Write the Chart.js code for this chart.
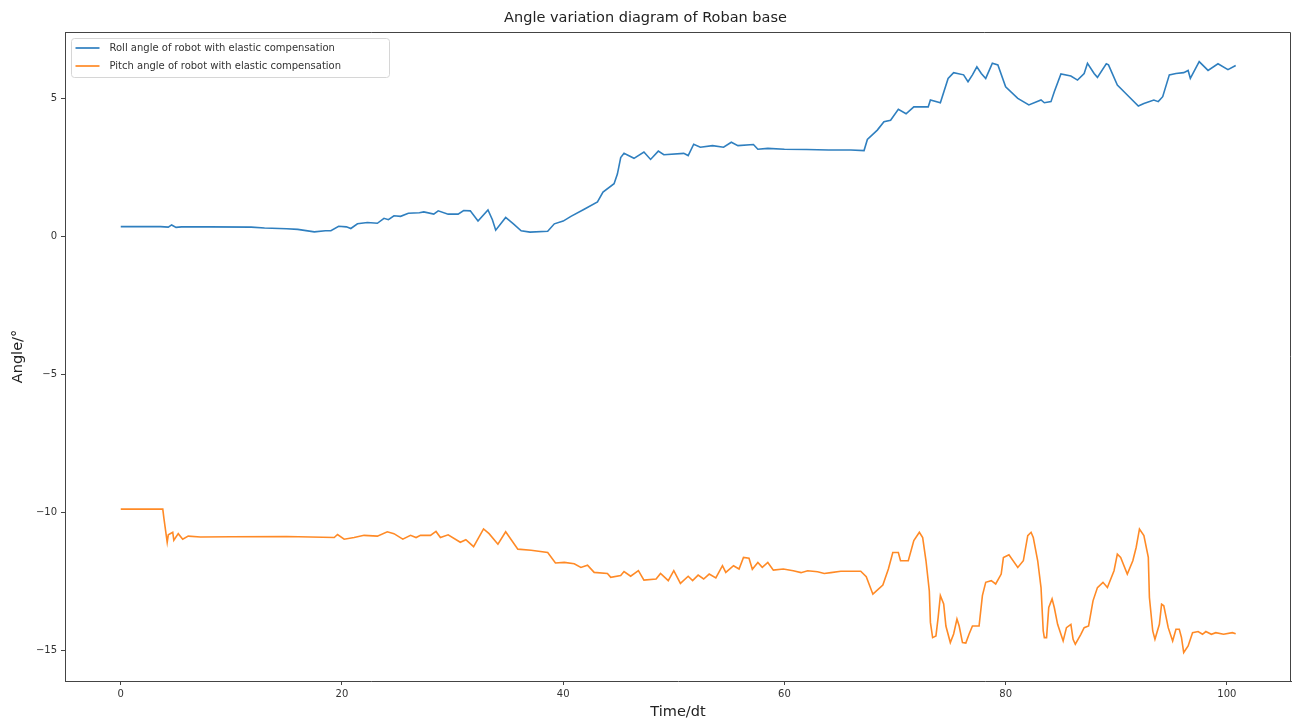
<!DOCTYPE html>
<html>
<head>
<meta charset="utf-8">
<script src="https://cdn.jsdelivr.net/npm/chart.js@4.4.1/dist/chart.umd.min.js"></script>
<style>
  html, body { margin: 0; padding: 0; background: #ffffff; }
  #wrap { width: 1293px; height: 724px; }
</style>
</head>
<body>
<div id="wrap"><canvas id="c" width="1293" height="724"></canvas></div>
<script>
const chartTitle = 'Angle variation diagram of Roban base';
const xAxisTitle = 'Time/dt';
const yAxisTitle = 'Angle/°';
const seriesNames = ['Roll angle of robot with elastic compensation', 'Pitch angle of robot with elastic compensation'];
const xTickValues = [0, 20, 40, 60, 80, 100];
const yTickValues = [-15, -10, -5, 0, 5];

const rollTime = [0, 3.6, 4.3, 4.6, 5.0, 5.5, 8, 11.8, 13, 15, 16, 17.5, 18.5, 19, 19.7, 20.4, 20.8, 21.4, 22.3, 23.2,
  23.8, 24.2, 24.7, 25.3, 26, 27, 27.4, 28.3, 28.7, 29.6, 30.5, 31, 31.6, 32.3, 33.2, 33.6, 33.9, 34.8, 35.5, 36.2,
  37, 38.6, 39.2, 40, 40.7, 41.9, 43.1, 43.6, 44.6, 44.9, 45.2, 45.5, 46.4, 47.3, 47.9, 48.6, 49.1, 50.9, 51.3, 51.8,
  52.4, 53.5, 54.5, 55.2, 55.8, 57.2, 57.6, 58.5, 60, 62, 64, 66, 67.2, 67.5, 68.4, 69, 69.6, 70.3, 71, 71.7,
  73, 73.2, 74.1, 74.8, 75.3, 76.2, 76.6, 77, 77.4, 77.8, 78.2, 78.8, 79.3, 80, 81.1, 82.1, 83.2, 83.5, 84.1, 84.4,
  85, 85.9, 86.5, 87.1, 87.4, 88, 88.3, 89.1, 89.3, 90.1, 91, 92, 92.5, 93.4, 93.8, 94.2, 94.8, 95.4, 96.1, 96.5,
  96.7, 97.5, 98.3, 99.2, 100.1, 100.8];
const rollAngle = [0.35, 0.35, 0.33, 0.41, 0.32, 0.34, 0.34, 0.33, 0.3, 0.27, 0.25, 0.16, 0.2, 0.2, 0.36, 0.34, 0.28, 0.45, 0.5, 0.47,
  0.65, 0.6, 0.74, 0.72, 0.83, 0.85, 0.88, 0.8, 0.92, 0.8, 0.8, 0.93, 0.92, 0.55, 0.95, 0.6, 0.22, 0.68, 0.45, 0.2,
  0.15, 0.18, 0.45, 0.55, 0.72, 0.98, 1.24, 1.6, 1.9, 2.25, 2.85, 3.0, 2.82, 3.05, 2.78, 3.08, 2.95, 3.0, 2.92, 3.33,
  3.22, 3.28, 3.22, 3.4, 3.28, 3.32, 3.15, 3.18, 3.15, 3.14, 3.12, 3.12, 3.1, 3.5, 3.84, 4.14, 4.2, 4.59, 4.43, 4.68,
  4.68, 4.93, 4.83, 5.71, 5.92, 5.84, 5.59, 5.84, 6.13, 5.89, 5.71, 6.26, 6.2, 5.41, 4.99, 4.75, 4.93, 4.83, 4.87, 5.23,
  5.87, 5.8, 5.65, 5.89, 6.26, 5.89, 5.75, 6.24, 6.2, 5.47, 5.11, 4.71, 4.8, 4.93, 4.87, 5.05, 5.84, 5.89, 5.92, 6.0,
  5.71, 6.32, 6.0, 6.24, 6.03, 6.18];

const pitchTime = [0, 3.8, 3.9, 4.2, 4.3, 4.7, 4.8, 5.2, 5.6, 6.1, 7.2, 10, 15, 19.3, 19.6, 20.2, 21.1, 22, 23.2, 24.1,
  24.7, 25.5, 26.2, 26.7, 27.1, 28, 28.5, 28.9, 29.6, 30.7, 31.2, 31.9, 32.8, 33.3, 34.1, 34.8, 35.9, 37.1, 38.6, 39.3,
  40.1, 41, 41.6, 42.2, 42.8, 44, 44.3, 45.2, 45.5, 46.1, 46.8, 47.3, 48.4, 48.8, 49.5, 50, 50.6, 51.3, 51.7, 52.2,
  52.7, 53.2, 53.8, 54.4, 54.7, 55.4, 55.9, 56.3, 56.8, 57.1, 57.6, 58, 58.5, 59, 59.9, 60.8, 61.5, 62.1, 63, 63.6,
  64.2, 65.1, 66.9, 67.4, 68, 68.9, 69.4, 69.8, 70.3, 70.5, 71.2, 71.7, 72.2, 72.5, 72.8, 73.1, 73.2, 73.4, 73.7, 73.9,
  74.1, 74.4, 74.6, 75, 75.3, 75.6, 75.8, 76.1, 76.4, 76.7, 77, 77.6, 77.9, 78.2, 78.7, 79.1, 79.6, 79.8, 80.3, 81.1,
  81.6, 82, 82.3, 82.5, 82.9, 83.2, 83.4, 83.5, 83.7, 83.9, 84.2, 84.4, 84.7, 85.2, 85.5, 85.9, 86.1, 86.3, 86.8, 87.1,
  87.5, 87.9, 88.3, 88.8, 89.2, 89.8, 90.1, 90.4, 91, 91.5, 91.8, 92.1, 92.5, 92.9, 93, 93.3, 93.5, 93.9, 94.1, 94.3,
  94.7, 95.1, 95.4, 95.7, 95.9, 96.1, 96.5, 96.9, 97.4, 97.8, 98.1, 98.6, 99, 99.7, 100.5, 100.8];
const pitchAngle = [-9.87, -9.87, -10.2, -11.07, -10.8, -10.71, -11.0, -10.76, -10.96, -10.85, -10.88, -10.87, -10.86, -10.9, -10.79, -10.96, -10.9, -10.82, -10.85, -10.69,
  -10.76, -10.96, -10.82, -10.9, -10.82, -10.82, -10.68, -10.9, -10.8, -11.07, -10.98, -11.23, -10.59, -10.76, -11.14, -10.69, -11.32, -11.36, -11.44, -11.82,
  -11.8, -11.85, -11.98, -11.9, -12.16, -12.2, -12.34, -12.27, -12.13, -12.3, -12.1, -12.44, -12.4, -12.2, -12.46, -12.1, -12.56, -12.3, -12.46, -12.26,
  -12.4, -12.22, -12.36, -11.92, -12.16, -11.92, -12.04, -11.62, -11.65, -12.05, -11.8, -11.98, -11.8, -12.08, -12.04, -12.1, -12.17, -12.1, -12.14, -12.2,
  -12.17, -12.12, -12.12, -12.32, -12.95, -12.62, -12.04, -11.44, -11.44, -11.74, -11.74, -11.01, -10.71, -10.9, -11.74, -12.83, -13.97, -14.52, -14.46, -13.79,
  -13.0, -13.3, -14.1, -14.7, -14.39, -13.85, -14.1, -14.7, -14.72, -14.39, -14.1, -14.1, -13.0, -12.52, -12.46, -12.58, -12.22, -11.62, -11.52, -11.98,
  -11.74, -10.83, -10.71, -10.9, -11.74, -12.71, -14.28, -14.52, -14.52, -13.43, -13.12, -13.43, -14.04, -14.64, -14.16, -14.04, -14.58, -14.76, -14.4, -14.16,
  -14.1, -13.19, -12.71, -12.52, -12.71, -12.1, -11.5, -11.62, -12.22, -11.74, -11.26, -10.59, -10.83, -11.62, -13.07, -14.28, -14.58, -14.04, -13.31, -13.37,
  -14.16, -14.64, -14.22, -14.22, -14.52, -15.06, -14.82, -14.34, -14.3, -14.4, -14.3, -14.4, -14.34, -14.4, -14.34, -14.38];

const seriesColors = ['#2f7fbf', '#ff8a26'];
const FONT = "'DejaVu Sans', 'Liberation Sans', sans-serif";
const AXIS_COLOR = '#444444';
const minusLabel = v => (v < 0 ? '\u2212' + Math.abs(v) : String(v));

const toPoints = (xs, ys) => xs.map((x, i) => ({ x: x, y: ys[i] }));

const framePlugin = {
  id: 'frameAndLegend',
  afterDraw(chart) {
    const { ctx, chartArea: a } = chart;
    ctx.save();
    ctx.strokeStyle = AXIS_COLOR;
    ctx.lineWidth = 1;
    const L = Math.round(a.left) + 0.5, T = Math.round(a.top) + 0.5, R = Math.round(a.right) - 0.5, B = Math.round(a.bottom);
    ctx.beginPath();
    ctx.moveTo(L, T);
    ctx.lineTo(R, T);
    ctx.lineTo(R, B);
    ctx.stroke();

    // legend box (upper left, inside plot area)
    const bx = a.left + 6.5, by = a.top + 6.5, bw = 318, bh = 39, r = 3;
    ctx.beginPath();
    ctx.moveTo(bx + r, by);
    ctx.lineTo(bx + bw - r, by);
    ctx.quadraticCurveTo(bx + bw, by, bx + bw, by + r);
    ctx.lineTo(bx + bw, by + bh - r);
    ctx.quadraticCurveTo(bx + bw, by + bh, bx + bw - r, by + bh);
    ctx.lineTo(bx + r, by + bh);
    ctx.quadraticCurveTo(bx, by + bh, bx, by + bh - r);
    ctx.lineTo(bx, by + r);
    ctx.quadraticCurveTo(bx, by, bx + r, by);
    ctx.closePath();
    ctx.fillStyle = 'rgba(255,255,255,0.8)';
    ctx.fill();
    ctx.strokeStyle = '#d6d6d6';
    ctx.stroke();

    ctx.font = '10px ' + FONT;
    ctx.textBaseline = 'middle';
    ctx.textAlign = 'left';
    chart.data.datasets.forEach((ds, i) => {
      const yy = by + 9.5 + i * 18;
      ctx.strokeStyle = ds.borderColor;
      ctx.globalAlpha = 0.85;
      ctx.lineWidth = 2;
      ctx.beginPath();
      ctx.moveTo(bx + 4, yy);
      ctx.lineTo(bx + 28, yy);
      ctx.stroke();
      ctx.globalAlpha = 1;
      ctx.fillStyle = '#333333';
      ctx.fillText(ds.label, bx + 38, yy);
    });
    ctx.restore();
  }
};

new Chart(document.getElementById('c'), {
  type: 'line',
  data: {
    datasets: [
      { label: seriesNames[0], data: toPoints(rollTime, rollAngle), borderColor: seriesColors[0], backgroundColor: seriesColors[0],
        borderWidth: 1.6, pointRadius: 0, tension: 0, fill: false },
      { label: seriesNames[1], data: toPoints(pitchTime, pitchAngle), borderColor: seriesColors[1], backgroundColor: seriesColors[1],
        borderWidth: 1.6, pointRadius: 0, tension: 0, fill: false }
    ]
  },
  options: {
    responsive: false,
    animation: false,
    events: [],
    layout: { padding: { left: 0, right: 2, top: 0, bottom: 0 } },
    plugins: {
      legend: { display: false },
      tooltip: { enabled: false },
      title: {
        display: true, text: chartTitle, color: '#222222',
        font: { family: FONT, size: 14.5, weight: 'normal', lineHeight: 1.2 },
        padding: { top: 10, bottom: 4.6 }
      }
    },
    scales: {
      x: {
        type: 'linear', min: -5.04, max: 105.8,
        afterBuildTicks: s => { s.ticks = xTickValues.map(v => ({ value: v })); },
        afterFit: s => { s.height = 43; },
        grid: { display: true, drawOnChartArea: false, drawTicks: true, tickLength: 4, color: AXIS_COLOR, lineWidth: 1 },
        border: { display: true, color: AXIS_COLOR, width: 1 },
        ticks: { color: '#333333', font: { family: FONT, size: 10 }, padding: 3, maxRotation: 0, autoSkip: false, callback: v => minusLabel(v) },
        title: { display: true, text: xAxisTitle, color: '#222222', font: { family: FONT, size: 14.5, lineHeight: 1.2 }, padding: { top: 0, bottom: 3.3 } }
      },
      y: {
        type: 'linear', min: -16.09, max: 7.39,
        afterBuildTicks: s => { s.ticks = yTickValues.map(v => ({ value: v })); },
        afterFit: s => { s.width = 65; },
        grid: { display: true, drawOnChartArea: false, drawTicks: true, tickLength: 4, color: AXIS_COLOR, lineWidth: 1 },
        border: { display: true, color: AXIS_COLOR, width: 1 },
        ticks: { color: '#333333', font: { family: FONT, size: 10 }, padding: 4, autoSkip: false, callback: v => minusLabel(v) },
        title: { display: true, text: yAxisTitle, color: '#222222', font: { family: FONT, size: 14.5, lineHeight: 1.2 }, padding: { top: 9.3, bottom: 0 } }
      }
    }
  },
  plugins: [framePlugin]
});
</script>
</body>
</html>
